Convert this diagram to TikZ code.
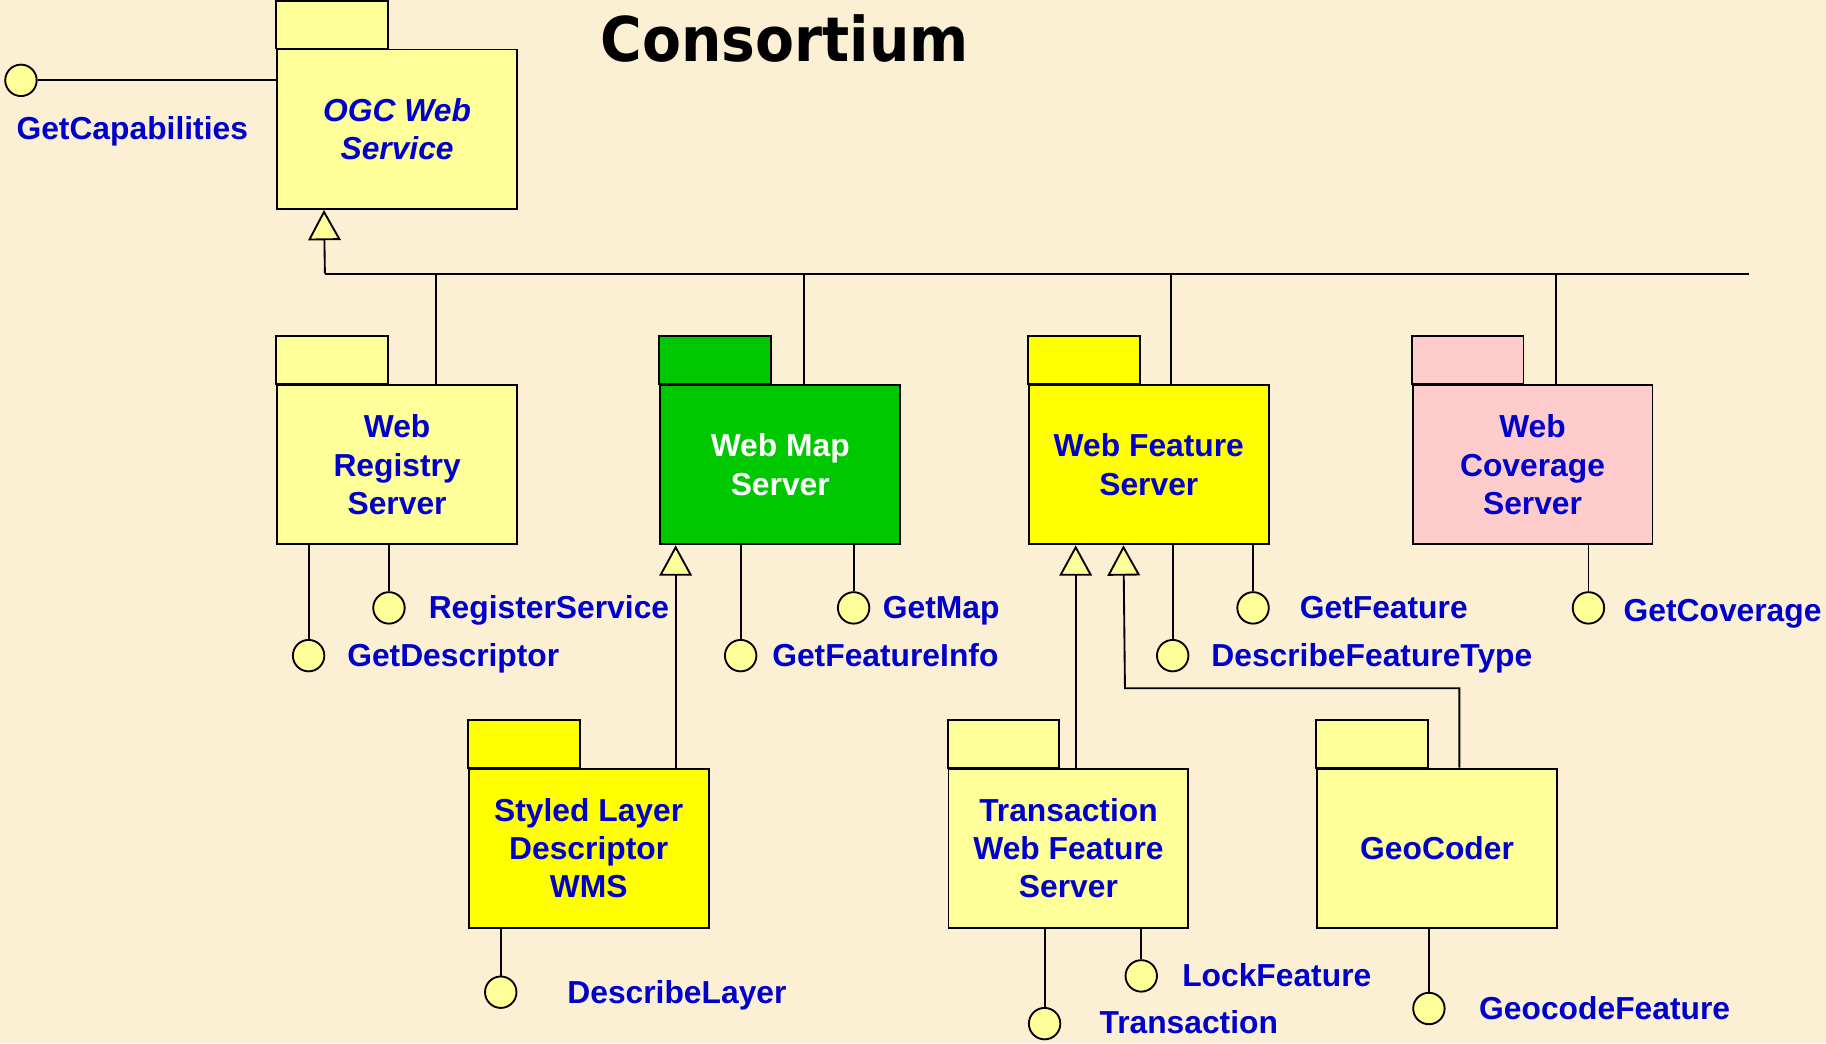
\documentclass[tikz,border=0pt]{standalone}
\usepackage{fontspec}
\setmainfont{Liberation Sans}
\newfontfamily\titlefont{DejaVu Sans}[FakeStretch=0.92]
\usetikzlibrary{arrows.meta,calc}
\definecolor{bg}{HTML}{FCF0D4}
\definecolor{lyellow}{HTML}{FFFF99}
\definecolor{yel}{HTML}{FFFF00}
\definecolor{grn}{HTML}{00C800}
\definecolor{pnk}{HTML}{FFCCCC}
\definecolor{tblue}{HTML}{0000CC}
\newcommand\pkgtab[2]{\draw[conn, fill=#2] (#1.north west) rectangle ++(96,-41);}
\begin{document}
\begin{tikzpicture}[x=1pt,y=-1pt,
  every node/.style={font=\fontsize{27.3}{32.8}\selectfont\bfseries},
  conn/.style={line width=1.6pt, draw=black},
  pkgbody/.style={draw=black, line width=1.6pt, minimum width=206pt, minimum height=137pt, inner sep=0pt, align=center, text=tblue},
  iface/.style={circle, draw=black, line width=1.6pt, fill=lyellow, minimum size=27pt, inner sep=0pt},
  lbl/.style={anchor=base west, text=tblue, inner sep=0pt},
  gen/.style={conn, -{Triangle[width=28pt,length=26pt,fill=lyellow]}}]
\fill[bg] (0,0) rectangle (1568,896);
\useasboundingbox (0,0) rectangle (1568,896);

% title
\node[font=\titlefont\fontsize{53}{60}\selectfont\bfseries, anchor=base, inner sep=0pt] (title) at (674,53) {Consortium};

% packages
\node[pkgbody, fill=lyellow, font=\fontsize{27.3}{32.8}\selectfont\bfseries\itshape] (ogc) at (341,111) {OGC Web\\Service};
\pkgtab{ogc}{lyellow}
\node[pkgbody, fill=lyellow] (wrs) at (341,399) {Web\\Registry\\Server};
\pkgtab{wrs}{lyellow}
\node[pkgbody, fill=grn, text=white] (wms) at (670,399) {Web Map\\Server};
\pkgtab{wms}{grn}
\node[pkgbody, fill=yel] (wfs) at (986.5,399) {Web Feature\\Server};
\pkgtab{wfs}{yel}
\node[pkgbody, fill=pnk] (wcs) at (1316,399) {Web\\Coverage\\Server};
\pkgtab{wcs}{pnk}
\node[pkgbody, fill=yel] (sld) at (505.5,728.5) {Styled Layer\\Descriptor\\WMS};
\pkgtab{sld}{yel}
\node[pkgbody, fill=lyellow] (twfs) at (917.5,728.5) {Transaction\\Web Feature\\Server};
\pkgtab{twfs}{lyellow}
\node[pkgbody, fill=lyellow] (geo) at (1234,728.5) {GeoCoder};
\pkgtab{geo}{lyellow}

% inheritance bus
\coordinate (t0) at ($(ogc.south west)+(41,0)$);
\coordinate (bus) at (279,235);
\coordinate (busend) at (1502,235);
\draw[gen] (bus) -- (t0);
\draw[conn] (bus) -- (busend);
\coordinate (a1) at ($(wrs.north west)+(137,0)$);
\coordinate (a2) at ($(wms.north west)+(124,0)$);
\coordinate (a3) at ($(wfs.north west)+(123,0)$);
\coordinate (a4) at ($(wcs.north west)+(124,0)$);
\foreach \a in {a1,a2,a3,a4} \draw[conn] (\a) -- (\a |- bus);

% sub-packages
\coordinate (t1) at ($(wms.south west)+(14,0)$);
\coordinate (t2) at ($(wfs.south west)+(41,0)$);
\coordinate (t3) at ($(wfs.south west)+(82,0)$);
\coordinate (ga) at ($(geo.north west)+(123,0)$);
\coordinate (elbow) at (966,591);
\draw[gen] (t1 |- sld.north) -- (t1);
\draw[gen] (t2 |- twfs.north) -- (t2);
\draw[gen] (ga) |- (elbow) -- (t3);

% interfaces
\node[iface] (igc) at (18,69) {};
\draw[conn] (igc.east) -- (igc.east -| ogc.west);
\node[lbl] (lgc) at (14,119.5) {GetCapabilities};

\node[iface] (igd) at (265,563) {};
\draw[conn] (igd |- wrs.south) -- (igd.north);
\node[lbl] (lgd) at (298,572.5) {GetDescriptor};
\node[iface] (irs) at (334,522) {};
\draw[conn] (irs |- wrs.south) -- (irs.north);
\node[lbl] (lrs) at (368,531.5) {RegisterService};

\node[iface] (igfi) at (636,563) {};
\draw[conn] (igfi |- wms.south) -- (igfi.north);
\node[lbl] (lgfi) at (663,572.5) {GetFeatureInfo};
\node[iface] (igm) at (733,522) {};
\draw[conn] (igm |- wms.south) -- (igm.north);
\node[lbl] (lgm) at (758,531.5) {GetMap};

\node[iface] (idft) at (1007,563) {};
\draw[conn] (idft |- wfs.south) -- (idft.north);
\node[lbl] (ldft) at (1040,572.5) {DescribeFeatureType};
\node[iface] (igf) at (1076,522) {};
\draw[conn] (igf |- wfs.south) -- (igf.north);
\node[lbl] (lgf) at (1116,531.5) {GetFeature};

\node[iface] (igcov) at (1364,522) {};
\draw[conn] (igcov |- wcs.south) -- (igcov.north);
\node[lbl] (lgcov) at (1394,534) {GetCoverage};

\node[iface] (idl) at (430,852) {};
\draw[conn] (idl |- sld.south) -- (idl.north);
\node[lbl] (ldl) at (487,861.5) {DescribeLayer};

\node[iface] (itr) at (897,879) {};
\draw[conn] (itr |- twfs.south) -- (itr.north);
\node[lbl] (ltr) at (944,887.5) {Transaction};
\node[iface] (ilf) at (980,838) {};
\draw[conn] (ilf |- twfs.south) -- (ilf.north);
\node[lbl] (llf) at (1015,847.5) {LockFeature};

\node[iface] (igeo) at (1227,866) {};
\draw[conn] (igeo |- geo.south) -- (igeo.north);
\node[lbl] (lgeo) at (1270,875.5) {GeocodeFeature};
\end{tikzpicture}
\end{document}
